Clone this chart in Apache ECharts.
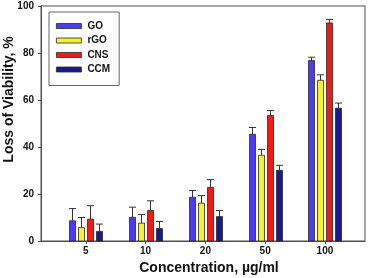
<!DOCTYPE html>
<html><head><meta charset="utf-8">
<script src="https://cdn.jsdelivr.net/npm/echarts@6/dist/echarts.min.js"></script>
<style>html,body{margin:0;padding:0;background:#fff}#c{width:371px;height:278px}</style>
</head><body><div id="c"></div>
<script>
const categories = ['5', '10', '20', '50', '100'];
const seriesNames = ['GO', 'rGO', 'CNS', 'CCM'];
const GO = [8.6, 10.1, 18.6, 45.4, 76.8];
const GO_err = [5.2, 4.3, 2.9, 2.9, 1.4];
const rGO = [5.7, 7.6, 16.1, 36.5, 68.4];
const rGO_err = [4.3, 3.7, 3.2, 2.5, 2.3];
const CNS = [9.3, 13.0, 22.8, 53.4, 92.8];
const CNS_err = [5.7, 4.1, 3.3, 2.1, 1.5];
const CCM = [4.1, 5.3, 10.4, 30.1, 56.5];
const CCM_err = [3.1, 3.0, 2.6, 2.1, 2.2];
const yTicks = [0, 20, 40, 60, 80, 100];

const values = [GO, rGO, CNS, CCM];
const errors = [GO_err, rGO_err, CNS_err, CCM_err];
const colors = ['#4b3cf2', '#f2f230', '#f21a14', '#1a1a8c'];
const FONT = 'Liberation Sans, Arial, sans-serif';
const BAR_W = 6, STEP = 9;
const EDGE = '#2a2a2a';

const series = [];
seriesNames.forEach((name, s) => {
  const off = (s - 1.5) * STEP;
  series.push({
    name, type: 'custom', z: 2,
    itemStyle: { color: colors[s], borderColor: EDGE, borderWidth: 0.8 },
    data: values[s].map((v, i) => [i, v]),
    renderItem: (params, api) => {
      const x = api.value(0), v = api.value(1);
      const pt = api.coord([x, v]);
      const pb = api.coord([x, 0]);
      const left = Math.round(pt[0] + off - BAR_W / 2) + 0.5;
      return { type: 'rect', shape: { x: left, y: pt[1], width: BAR_W, height: pb[1] - pt[1] },
        style: { fill: colors[s], stroke: EDGE, lineWidth: 0.8 } };
    }
  });
});
seriesNames.forEach((name, s) => {
  const off = (s - 1.5) * STEP;
  series.push({
    name: name + ' err', type: 'custom', z: 3,
    data: values[s].map((v, i) => [i, v, errors[s][i]]),
    renderItem: (params, api) => {
      const x = api.value(0), v = api.value(1), e = api.value(2);
      const p0 = api.coord([x, v]);
      const p1 = api.coord([x, v + e]);
      const cx = Math.round(p0[0] + off) + 0.5;
      const style = { stroke: '#333', lineWidth: 1 };
      return { type: 'group', children: [
        { type: 'line', shape: { x1: cx, y1: p0[1], x2: cx, y2: p1[1] }, style },
        { type: 'line', shape: { x1: cx - 3.5, y1: p1[1], x2: cx + 3.5, y2: p1[1] }, style }
      ]};
    }
  });
});

const chart = echarts.init(document.getElementById('c'), null, { renderer: 'canvas' });
chart.setOption({
  animation: false,
  textStyle: { fontFamily: FONT },
  grid: { left: 41, right: 6, top: 6, bottom: 37, show: true, borderColor: '#4a4f52', borderWidth: 1, outerBoundsMode: 'none', containLabel: false },
  legend: {
    data: seriesNames.map((n, s) => ({ name: n, icon: 'rect', itemStyle: { color: colors[s], borderColor: EDGE, borderWidth: 0.8 } })),
    orient: 'vertical', left: 49, top: 12,
    padding: [8, 9, 10, 7], itemGap: 2.5, itemWidth: 25, itemHeight: 5,
    borderColor: '#666', borderWidth: 1,
    textStyle: { fontFamily: FONT, fontWeight: 'bold', fontSize: 10, color: '#111', lineHeight: 12, padding: [0, 0, 0, 1] }
  },
  xAxis: {
    type: 'value', min: -0.75, max: 4.67,
    name: 'Concentration, µg/ml', nameLocation: 'middle', nameGap: 20, nameMoveOverlap: false,
    nameTextStyle: { fontFamily: FONT, fontWeight: 'bold', fontSize: 14, color: '#111', padding: [0, 0, 0, 12] },
    axisLine: { show: true, onZero: false, lineStyle: { color: '#4a4f52', width: 1 } },
    axisTick: { show: true, length: 3, customValues: [0, 1, 2, 3, 4], lineStyle: { color: '#4a4f52' } },
    axisLabel: { customValues: [0, 1, 2, 3, 4], formatter: v => categories[Math.round(v)], fontFamily: FONT, fontWeight: 'bold', fontSize: 10, color: '#111', margin: 5 },
    splitLine: { show: false }
  },
  yAxis: {
    type: 'value', min: 0, max: 100, interval: 20,
    name: 'Loss of Viability, %', nameLocation: 'middle', nameGap: 25, nameMoveOverlap: false,
    nameTextStyle: { fontFamily: FONT, fontWeight: 'bold', fontSize: 14, color: '#111', padding: [0, 0, 0, 48] },
    axisLine: { show: true, onZero: false, lineStyle: { color: '#4a4f52', width: 1 } },
    axisTick: { show: true, length: 3, lineStyle: { color: '#4a4f52' } },
    axisLabel: { fontFamily: FONT, fontWeight: 'bold', fontSize: 10, color: '#111', margin: 7, customValues: yTicks },
    splitLine: { show: false }
  },
  series
});
</script></body></html>
